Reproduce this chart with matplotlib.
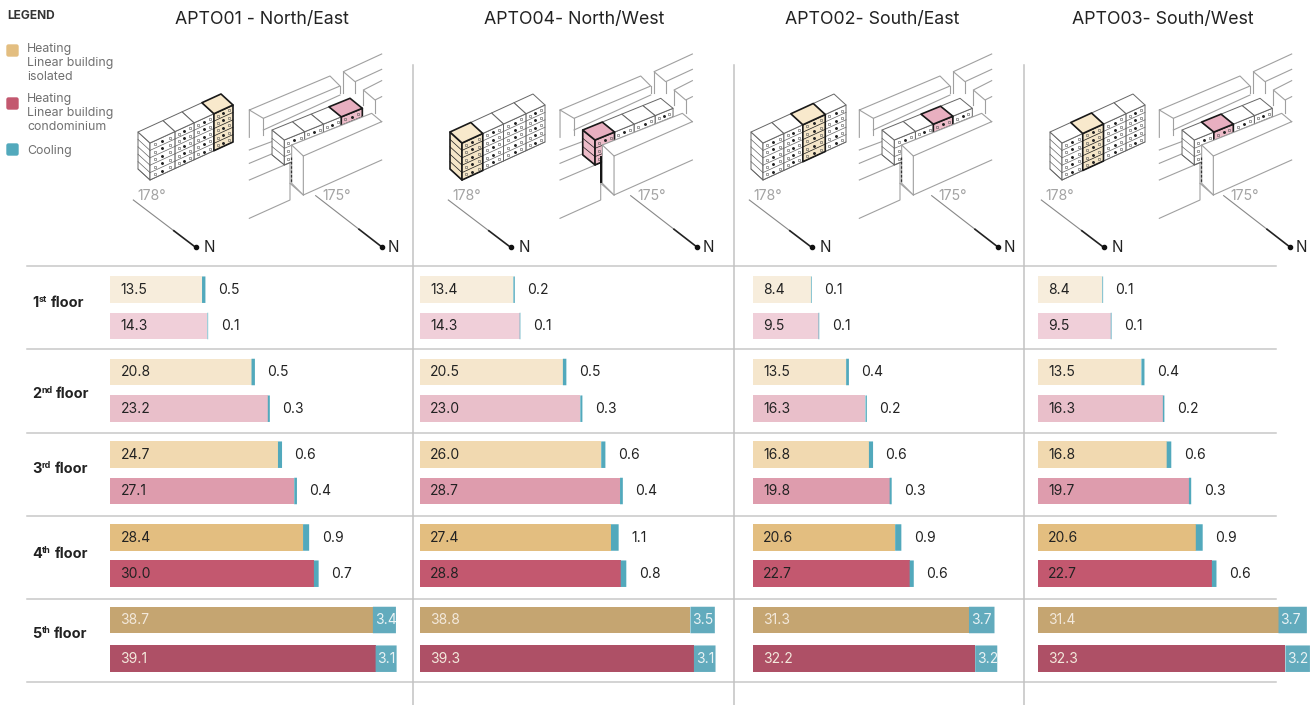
#!/usr/bin/env python3
import numpy as np
import matplotlib
matplotlib.use("Agg")
import matplotlib.pyplot as plt
from matplotlib.patches import Polygon, FancyBboxPatch
from matplotlib.transforms import TransformedBbox

plt.rcParams['font.family'] = ['Inter', 'DejaVu Sans']

W, H = 1312, 705

# data
titles = ["APTO01 - North/East", "APTO04- North/West", "APTO02- South/East", "APTO03- South/West"]
floors = ["1", "2", "3", "4", "5"]
suffix = ["st", "nd", "rd", "th", "th"]

heat_isolated = [
    [13.5, 20.8, 24.7, 28.4, 38.7],
    [13.4, 20.5, 26.0, 27.4, 38.8],
    [8.4, 13.5, 16.8, 20.6, 31.3],
    [8.4, 13.5, 16.8, 20.6, 31.4],
]
cool_isolated = [
    [0.5, 0.5, 0.6, 0.9, 3.4],
    [0.2, 0.5, 0.6, 1.1, 3.5],
    [0.1, 0.4, 0.6, 0.9, 3.7],
    [0.1, 0.4, 0.6, 0.9, 3.7],
]
heat_condo = [
    [14.3, 23.2, 27.1, 30.0, 39.1],
    [14.3, 23.0, 28.7, 28.8, 39.3],
    [9.5, 16.3, 19.8, 22.7, 32.2],
    [9.5, 16.3, 19.7, 22.7, 32.3],
]
cool_condo = [
    [0.1, 0.3, 0.4, 0.7, 3.1],
    [0.1, 0.3, 0.4, 0.8, 3.1],
    [0.1, 0.2, 0.3, 0.6, 3.2],
    [0.1, 0.2, 0.3, 0.6, 3.2],
]

# layout, in pixels of the reference
panel_x0 = [110.5, 420, 753, 1038]
panel_scale = [6.78, 6.97, 6.9, 7.66]
title_x = [262, 574, 872, 1163]
y_iso = [289.7, 372, 454.7, 537.5, 620]
y_con = [326, 408.7, 491, 573.7, 658.7]
bar_h = 26.5
row_y = [307, 398, 473, 558, 638]
grid_y = [266, 349, 432.7, 515.8, 599.3, 682.3]
vert_x = [412.6, 733.6, 1023.8]

iso_colors = ["#F7EDDC", "#F5E6CC", "#F1D9B0", "#E3BE80", "#C5A571"]
con_colors = ["#F0CFD9", "#E9BFCA", "#DE9CAD", "#C3586F", "#AE5066"]
cool_color = "#52A9BC"
cool_color_big = "#62ABBD"

# block edges along the linear building, per panel
block_left = [[0, .3, .53, .77, 1], [0, .25, .5, .77, 1], [0, .25, .48, .75, 1], [0, .25, .5, .77, 1]]
block_site = [[0, .26, .5, .73, 1], [0, .25, .5, .77, 1], [0, .27, .5, .75, 1], [0, .25, .5, .77, 1]]
highlight = [3, 0, 2, 1]
left_x = [150, 462, 763, 1062]
site_dx = [0, 310.7, 610, 910]
compass_dx = [0, 315, 616, 908]

fig = plt.figure(figsize=(W / 100, H / 100), dpi=100)
bg = fig.add_axes([0, 0, 1, 1])
bg.set_xlim(0, W)
bg.set_ylim(H, 0)
bg.axis("off")
renderer = fig.canvas.get_renderer()


def zp(pts, dx=0):
    # zoomed sketch units to pixels
    return [(125 + x / 3 + dx, 50 + y / 3) for x, y in pts]


def draw_block(ax, p, fa, fb, L, D, fh, nfl, top="white", face="white", edge="#666666", lw=0.7, z=3, side=False):
    p, L, D = np.array(p, float), np.array(L, float), np.array(D, float)
    up = np.array([0, -fh])
    a, b = p + L * fa, p + L * fb
    ht = up * nfl
    polys = []
    if side:
        polys.append(([a, a + ht, a + ht + D, a + D], face))
    polys.append(([a, b, b + ht, a + ht], face))
    polys.append(([a + ht, b + ht, b + ht + D, a + ht + D], top))
    for poly, c in polys:
        ax.add_patch(Polygon(poly, closed=True, fc=c, ec=edge, lw=lw, zorder=z, joinstyle="round"))
    for i in range(nfl):
        # floor lines and the little windows
        ax.plot(*zip(a + up * i, b + up * i), color=edge, lw=0.5, zorder=z + 0.1)
        if side:
            ax.plot(*zip(a + up * i, a + up * i + D), color=edge, lw=0.5, zorder=z + 0.1)
        for t in (0.2, 0.5, 0.8):
            q = a + (b - a) * t + up * (i + 0.5)
            if t == 0.5:
                ax.plot(q[0], q[1], "o", ms=1.1, color="#222222", zorder=z + 0.2)
            else:
                ax.plot(q[0], q[1], "s", ms=2.1, mfc="none", mec="#555555", mew=0.4, zorder=z + 0.2)


def draw_context(ax, dx, z):
    lines = [
        [(373, 180), (615, 78), (645, 108), (415, 205), (373, 180), (373, 262)],
        [(415, 205), (415, 255)], [(415, 240), (645, 135)], [(645, 108), (645, 130)],
        [(770, 12), (655, 65), (690, 95), (770, 58)], [(655, 65), (655, 130)], [(690, 95), (690, 130)],
        [(770, 92), (715, 120), (750, 150), (770, 140)], [(715, 120), (715, 165)], [(750, 150), (750, 190)],
        [(373, 300), (440, 275)], [(373, 340), (440, 312)], [(373, 390), (495, 338)],
        [(373, 505), (495, 450), (495, 340)], [(495, 400), (535, 435)],
    ]
    for ln in lines:
        ax.plot(*zip(*zp(ln, dx)), color="#a0a0a0", lw=0.8, zorder=z)


def draw_wall(ax, dx, z):
    top = [(500, 285), (740, 190), (770, 215), (535, 318)]
    front = [(535, 318), (770, 215), (770, 330), (535, 435)]
    side = [(500, 285), (535, 318), (535, 435), (500, 400)]
    for poly in (side, front, top):
        ax.add_patch(Polygon(zp(poly, dx), closed=True, fc="white", ec="none", zorder=z))
    for ln in ([(770, 215), (535, 318), (500, 285), (740, 190), (770, 215)], [(535, 318), (535, 435), (770, 330)],
               [(500, 285), (500, 400), (535, 435)]):
        ax.plot(*zip(*zp(ln, dx)), color="#a0a0a0", lw=0.8, zorder=z + 0.1)


def draw_compass(ax, dx):
    for (x0, y0, x1, y1, nx, lx, label) in ((25, 450, 212, 592, 253, 80, "178°"), (572, 437, 772, 592, 805, 636, "175°")):
        s = zp([(x0, y0), (x0 + (x1 - x0) * 0.65, y0 + (y1 - y0) * 0.65), (x1, y1)], dx)
        ax.plot(*zip(s[0], s[1]), color="#888888", lw=0.8, zorder=2)
        ax.plot(*zip(s[1], s[2]), color="#222222", lw=1.2, zorder=2)
        ax.plot(*s[2], "o", ms=3, color="#111111", zorder=2)
        n = zp([(nx, 592), (lx, 437)], dx)
        ax.text(n[0][0], n[0][1], "N", fontsize=11, color="#222222", ha="center", va="center")
        ax.text(n[1][0], n[1][1], label, fontsize=10.2, color="#a3a3a3", ha="center", va="center")


for y in grid_y:
    bg.plot([27, 1276], [y, y], color="#c8c8c8", lw=1.1, zorder=1)
for x in vert_x:
    bg.plot([x, x], [65, H], color="#c2c2c2", lw=1.1, zorder=1)

# legend
bg.text(7, 16, "LEGEND", fontsize=8.6, fontweight="bold", color="#333333", va="center")
swatches = [(44, "#E3BE80"), (97, "#C3586F"), (143, "#52A9BC")]
for y, c in swatches:
    bg.add_patch(FancyBboxPatch((7, y + 1), 11, 11, boxstyle="round,pad=0,rounding_size=1.5", fc=c, ec=c, lw=1))
legend_lines = [(49, "Heating"), (63, "Linear building"), (77, "isolated"), (99, "Heating"),
                (113, "Linear building"), (127, "condominium"), (151, "Cooling")]
for y, s in legend_lines:
    bg.text(27, y, s, fontsize=8.9, color="#707070", va="center")

# row labels, each piece placed after the width of the one before
for f, suf, y in zip(floors, suffix, row_y):
    x = 32
    for s, size, dy in ((f, 10.4, 0), (suf, 6.4, -5), ("floor", 10.4, 0)):
        t = bg.text(x, y + dy, s, fontsize=size, fontweight="bold", color="#222222", va="baseline")
        x += t.get_window_extent(renderer).width + (3.5 if s == suf else 0.5)

for i in range(4):
    bg.text(title_x[i], 19, titles[i], fontsize=12.8, color="#222222", ha="center", va="center")

    # isolated building
    edges = block_left[i]
    L, D, fh = (83, -38), (-12, -11), 7.4
    for k in (3, 2, 1, 0):
        if k != highlight[i]:
            draw_block(bg, (left_x[i], 180), edges[k], edges[k + 1], L, D, fh, 5, side=k == 0)
    k = highlight[i]
    draw_block(bg, (left_x[i], 180), edges[k], edges[k + 1], L, D, fh, 5, top="#F8E9CC", face="#F5E6C8",
               edge="#1a1a1a", lw=1.2, z=4, side=k == 0)

    # site drawing
    dx = site_dx[i]
    draw_context(bg, dx, 2)
    edges = block_site[i]
    L, D, fh = (78, -31.7), (-12.3, -10), 8.3
    p = np.array(zp([(478, 270)], dx)[0])
    for k in (3, 2, 1, 0):
        nfl = 3 if k == 0 else 2
        base = p + np.array([0, fh * nfl])
        if k == highlight[i]:
            draw_block(bg, base, edges[k], edges[k + 1], L, D, fh, nfl, top="#E8AFC0", face="#EDBCC9",
                       edge="#1a1a1a", lw=1.2, z=4, side=k == 0)
        else:
            draw_block(bg, base, edges[k], edges[k + 1], L, D, fh, nfl, z=3, side=k == 0)
    draw_wall(bg, dx, 5)
    dashed = zp([(497, 322), (497, 395)], dx)
    if i == 1:
        bg.plot(*zip(*dashed), color="#111111", lw=1.4, zorder=6)
    else:
        bg.plot(*zip(*dashed), color="#333333", lw=0.9, ls=(0, (2, 1.5)), zorder=6)
    draw_compass(bg, compass_dx[i])

    # bars
    ax = fig.add_axes([0, 0, 1, 1], facecolor="none")
    ax.axis("off")
    ax.set_xlim(-panel_x0[i] / panel_scale[i], (W - panel_x0[i]) / panel_scale[i])
    ax.set_ylim(H, 0)
    for j in range(5):
        for y, heat, cool, c in ((y_iso[j], heat_isolated[i][j], cool_isolated[i][j], iso_colors[j]),
                                 (y_con[j], heat_condo[i][j], cool_condo[i][j], con_colors[j])):
            ax.barh(y, heat, height=bar_h, color=c, edgecolor="none")
            big = j == 4
            cb = ax.barh(y, cool, left=heat, height=bar_h, color=cool_color_big if big else cool_color,
                         edgecolor="none", snap=False)[0]
            ax.annotate(f"{heat:.1f}", xy=(0, y), xytext=(7.2, 0), textcoords="offset points", va="center",
                        fontsize=10, color="#F3E9DC" if big else "#222222")
            if big:
                t = ax.annotate(f"{cool:.1f}", xy=(heat, y), xytext=(1.4, 0), textcoords="offset points",
                                va="center", fontsize=10, color="#EAF3F5")
                t.set_clip_box(TransformedBbox(cb.get_bbox(), ax.transData))
                t.set_clip_on(True)
            else:
                ax.annotate(f"{cool:.1f}", xy=(heat + cool, y), xytext=(9, 0), textcoords="offset points",
                            va="center", fontsize=10, color="#222222")

fig.savefig("out.png", dpi=100)
